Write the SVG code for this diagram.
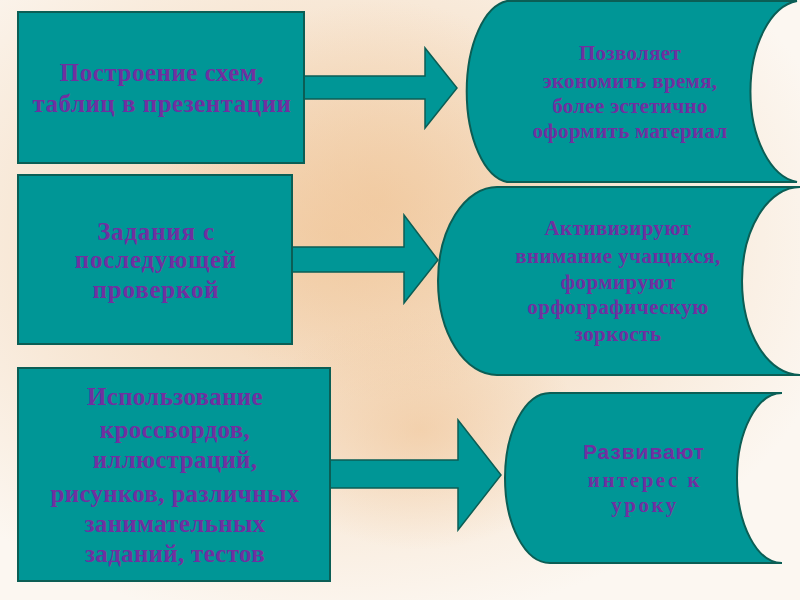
<svg xmlns="http://www.w3.org/2000/svg" width="800" height="600" viewBox="0 0 800 600">
<defs>
<radialGradient id="bg1" cx="0.42" cy="0.4" r="0.65">
<stop offset="0" stop-color="#f2d0ab"/>
<stop offset="0.45" stop-color="#f6e2cc"/>
<stop offset="1" stop-color="#fcf7f1"/>
</radialGradient>
<radialGradient id="blob" cx="0.5" cy="0.5" r="0.5">
<stop offset="0" stop-color="#f0c496" stop-opacity="0.6"/>
<stop offset="1" stop-color="#f0c496" stop-opacity="0"/>
</radialGradient>
<style>
.box{fill:#009696;stroke:#0b5e55;stroke-width:2}
.arr{fill:#009696;stroke:#0b5e55;stroke-width:1.5}
.t{font-family:"Liberation Serif","Times New Roman",serif;font-weight:bold;fill:#7030a0;text-anchor:middle}
.s{font-family:"Liberation Sans",Arial,sans-serif;font-weight:bold;fill:#7030a0;text-anchor:middle}
</style>
</defs>
<rect x="0" y="0" width="800" height="600" fill="url(#bg1)"/>
<ellipse cx="380" cy="200" rx="220" ry="200" fill="url(#blob)"/>
<ellipse cx="420" cy="430" rx="160" ry="120" fill="url(#blob)"/>

<g id="connectors">
<path class="arr" d="M304,76 H425 V48 L457,88 L425,128 V99 H304 Z"/>
<path class="arr" d="M292,247 H404 V215 L438,260 L404,303 V272 H292 Z"/>
<path class="arr" d="M330,460 H458 V420 L501,475 L458,530 V488 H330 Z"/>
</g>

<g id="box1">
<rect class="box" x="18" y="12" width="286" height="151"/>
<text class="t" font-size="25" letter-spacing="0.5"><tspan x="162" y="81">Построение схем,</tspan><tspan x="162" y="112">таблиц в презентации</tspan></text>
</g>
<g id="box2">
<rect class="box" x="18" y="175" width="274" height="169"/>
<text class="t" font-size="25" letter-spacing="0.8"><tspan x="156" y="240">Задания с</tspan><tspan x="156" y="268">последующей</tspan><tspan x="156" y="298">проверкой</tspan></text>
</g>
<g id="box3">
<rect class="box" x="18" y="368" width="312" height="213"/>
<text class="t" font-size="25" letter-spacing="0.3"><tspan x="175" y="405">Использование</tspan><tspan x="175" y="438">кроссвордов,</tspan><tspan x="175" y="468">иллюстраций,</tspan><tspan x="175" y="502">рисунков, различных</tspan><tspan x="175" y="532">занимательных</tspan><tspan x="175" y="562">заданий, тестов</tspan></text>
</g>

<g id="out1">
<path class="box" d="M507,1 H797 A52,91 0 0 0 797,182 H507 A45,91 0 0 1 507,1 Z"/>
<text class="t" font-size="21" letter-spacing="0.3"><tspan x="630" y="60">Позволяет</tspan><tspan x="630" y="88">экономить время,</tspan><tspan x="630" y="113">более эстетично</tspan><tspan x="630" y="138">оформить материал</tspan></text>
</g>
<g id="out2">
<path class="box" d="M497,187 H800 A58,94 0 0 0 800,375 H497 A59,94 0 0 1 497,187 Z"/>
<text class="t" font-size="21" letter-spacing="0.45"><tspan x="618" y="235">Активизируют</tspan><tspan x="618" y="263">внимание учащихся,</tspan><tspan x="618" y="289">формируют</tspan><tspan x="618" y="314">орфографическую</tspan><tspan x="618" y="341">зоркость</tspan></text>
</g>
<g id="out3">
<path class="box" d="M550,393 H782 A45,85 0 0 0 782,563 H550 A45,85 0 0 1 550,393 Z"/>
<text class="s" font-size="21" letter-spacing="0.9"><tspan x="644" y="459">Развивают</tspan></text>
<text class="t" font-size="21" letter-spacing="2.5"><tspan x="645" y="487">интерес к</tspan><tspan x="645" y="512">уроку</tspan></text>
</g>
</svg>
